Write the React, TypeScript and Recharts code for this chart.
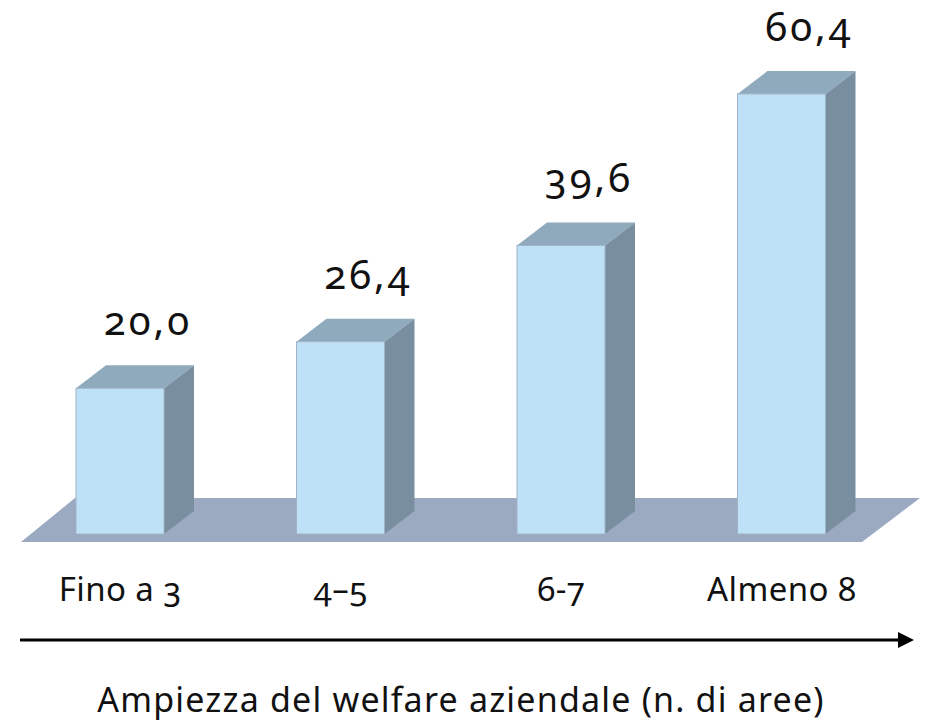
import { Bar, BarChart, LabelList, ReferenceArea, XAxis, YAxis, Label } from "recharts";

const categories = ["Fino a 3", "4–5", "6-7", "Almeno 8"];
const shares = [20.0, 26.4, 39.6, 60.4];
const axisTitle = "Ampiezza del welfare aziendale (n. di aree)";

const data = categories.map((name, i) => ({ name, value: shares[i] }));

const FRONT = "#bfe1f8";
const TOP = "#8faabc";
const SIDE = "#798f9f";
const FLOOR = "#9ba9c1";
const DX = 30;
const DY = 23;
const FONT = "'Noto Sans', sans-serif";

function Box(props: any) {
  const { x, y, width: w, height: h } = props;
  return (
    <g>
      <polygon
        points={`${x},${y} ${x + DX},${y - DY} ${x + w + DX},${y - DY} ${x + w},${y}`}
        fill={TOP}
      />
      <polygon
        points={`${x + w},${y} ${x + w + DX},${y - DY} ${x + w + DX},${y + h - DY} ${x + w},${y + h}`}
        fill={SIDE}
      />
      <rect x={x} y={y} width={w} height={h} fill={FRONT} stroke="#9fb4c4" strokeWidth={1} />
    </g>
  );
}

function Floor(props: any) {
  const { x, y, width: w, height: h } = props;
  // skewed plane under the boxes
  return (
    <polygon
      points={`${x + 11},${y + h} ${x + 65},${y} ${x + w + 28},${y} ${x + w - 30},${y + h}`}
      fill={FLOOR}
    />
  );
}

function ValueLabel(props: any) {
  const { x, y, width, value } = props;
  return (
    <text
      x={x + width / 2 + 28}
      y={y - 53}
      textAnchor="middle"
      fontFamily={FONT}
      fontSize={40}
      letterSpacing={3}
      fill="#111"
      style={{ fontVariantNumeric: "oldstyle-nums" }}
    >
      {value.toFixed(1).replace(".", ",")}
    </text>
  );
}

function Tick(props: any) {
  const { x, y, payload } = props;
  return (
    <text
      x={x}
      y={y + 59}
      textAnchor="middle"
      fontFamily={FONT}
      fontSize={33}
      letterSpacing={0.4}
      fill="#111"
      style={{ fontVariantNumeric: "oldstyle-nums" }}
    >
      {payload.value}
    </text>
  );
}

function AxisTitle(props: any) {
  const { viewBox } = props;
  const ay = viewBox.y + 106;
  return (
    <g>
      <line x1={20} y1={ay} x2={902} y2={ay} stroke="#000" strokeWidth={3} />
      <polygon points={`${914},${ay} ${898},${ay - 8} ${898},${ay + 8}`} fill="#000" />
      <text
        x={461}
        y={viewBox.y + 178}
        textAnchor="middle"
        fontFamily={FONT}
        fontSize={34}
        letterSpacing={1.2}
        fill="#111"
      >
        {axisTitle}
      </text>
    </g>
  );
}

export default function App() {
  return (
    <div style={{ position: "absolute", left: 0, top: 0, background: "#fff" }}>
      <BarChart
        width={930}
        height={721}
        data={data}
        margin={{ top: 24, right: 38, bottom: 127, left: 10 }}
        barSize={88}
      >
        <XAxis
          dataKey="name"
          axisLine={false}
          tickLine={false}
          height={60}
          tick={<Tick />}
          interval={0}
        >
          <Label content={<AxisTitle />} />
        </XAxis>
        <YAxis hide domain={[0, 70]} />
        <ReferenceArea
          x1="Fino a 3"
          x2="Almeno 8"
          y1={-1.1}
          y2={4.94}
          ifOverflow="visible"
          shape={<Floor />}
        />
        <Bar dataKey="value" isAnimationActive={false} shape={<Box />}>
          <LabelList dataKey="value" content={<ValueLabel />} />
        </Bar>
      </BarChart>
    </div>
  );
}
